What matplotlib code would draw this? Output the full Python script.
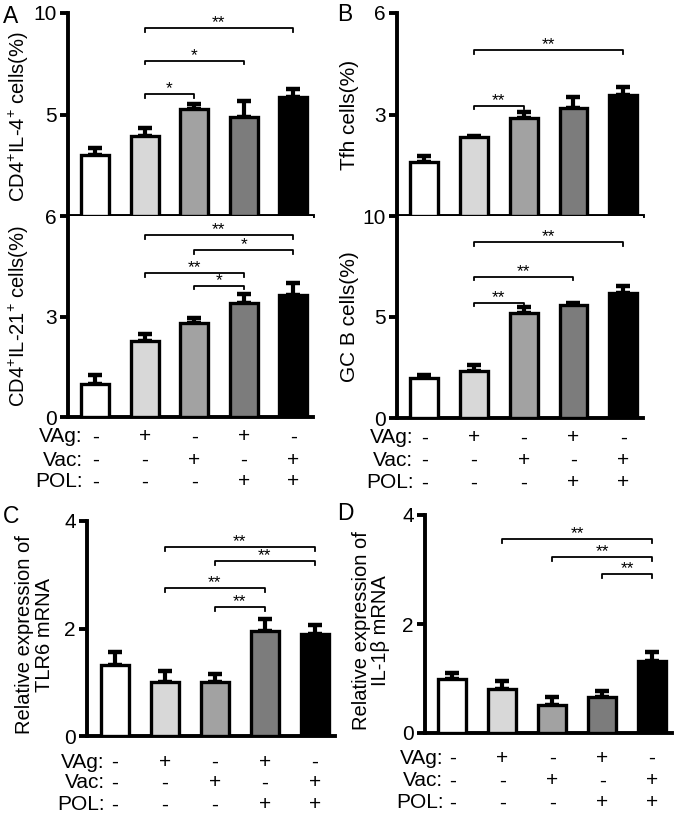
import matplotlib
matplotlib.use("Agg")
import matplotlib.pyplot as plt
from matplotlib.transforms import blended_transform_factory

plt.rcParams['font.family'] = ['Liberation Sans', 'DejaVu Sans']
plt.rcParams['mathtext.fontset'] = 'custom'
plt.rcParams['mathtext.rm'] = 'Liberation Sans'
plt.rcParams['mathtext.it'] = 'Liberation Sans:italic'

# group treatments (shown under the bottom panels)
vag = ['-', '+', '-', '+', '-']
vac = ['-', '-', '+', '-', '+']
pol = ['-', '-', '-', '+', '+']

bar_colors = ['white', '#d8d8d8', '#a2a2a2', '#7c7c7c', 'black']

# A top: CD4+IL-4+ cells
il4_mean = [3.0, 3.95, 5.25, 4.9, 5.85]
il4_err = [0.35, 0.4, 0.25, 0.75, 0.4]
il4_sig = [(1, 4, 9.26, '**'), (1, 3, 7.65, '*'), (1, 2, 6.0, '*')]

# A bottom: CD4+IL-21+ cells
il21_mean = [0.98, 2.28, 2.82, 3.41, 3.65]
il21_err = [0.27, 0.2, 0.15, 0.27, 0.35]
il21_sig = [(1, 4, 5.43, '**'), (2, 4, 4.98, '*'), (1, 3, 4.3, '**'), (2, 3, 3.92, '*')]

# B top: Tfh cells
tfh_mean = [1.59, 2.33, 2.9, 3.2, 3.59]
tfh_err = [0.18, 0.02, 0.18, 0.33, 0.22]
tfh_sig = [(1, 4, 4.9, '**'), (1, 2, 3.26, '**')]

# B bottom: GC B cells
gcb_mean = [2.0, 2.35, 5.2, 5.6, 6.2]
gcb_err = [0.12, 0.25, 0.28, 0.1, 0.35]
gcb_sig = [(1, 4, 8.7, '**'), (1, 3, 7.0, '**'), (1, 2, 5.7, '**')]

# C: TLR6 mRNA
tlr6_mean = [1.32, 1.01, 1.01, 1.96, 1.89]
tlr6_err = [0.24, 0.2, 0.15, 0.21, 0.17]
tlr6_sig = [(1, 4, 3.52, '**'), (2, 4, 3.25, '**'), (1, 3, 2.75, '**'), (2, 3, 2.4, '**')]

# D: IL-1b mRNA
il1b_mean = [1.0, 0.8, 0.51, 0.66, 1.32]
il1b_err = [0.1, 0.15, 0.15, 0.11, 0.17]
il1b_sig = [(1, 4, 3.56, '**'), (2, 4, 3.23, '**'), (3, 4, 2.92, '**')]

W, H = 675, 814
fig = plt.figure(figsize=(W / 100, H / 100), dpi=100)


def px_axes(x0, x1, ytop, ybot):
    # axes rectangle from pixel coords of the reference
    return fig.add_axes([x0 / W, 1 - ybot / H, (x1 - x0) / W, (ybot - ytop) / H])


def draw_bars(ax, mean, err, ymax, ticks, sig):
    x = list(range(len(mean)))
    ax.bar(x, mean, width=0.56, color=bar_colors, edgecolor='black',
           linewidth=2.4, zorder=3)
    ax.errorbar(x, mean, yerr=[[0] * len(err), err], fmt='none', ecolor='black',
                elinewidth=3, capsize=5, capthick=3.2, zorder=2)
    ax.set_xlim(-0.55, 4.4)
    ax.set_ylim(0, ymax)
    ax.set_yticks(ticks)
    ax.set_xticks([])
    for s in ['top', 'right']:
        ax.spines[s].set_visible(False)
    for s in ['left', 'bottom']:
        ax.spines[s].set_linewidth(2.8)
    ax.tick_params(axis='y', length=6, width=2.8, labelsize=15, pad=2)
    tick = ymax * 0.018
    for i, j, y, lab in sig:
        ax.plot([i, i, j, j], [y - tick, y, y, y - tick], color='black',
                lw=1.3, zorder=4)
        ax.annotate(lab, ((i + j) / 2, y), xytext=(0, -1.5), textcoords='offset points',
                    ha='center', va='bottom', fontsize=12.5)


def draw_groups(ax, label_x, rows_y):
    tr = blended_transform_factory(ax.transData, fig.transFigure)
    for name, vals, yp in zip(['VAg:', 'Vac:', 'POL:'], [vag, vac, pol], rows_y):
        yf = 1 - yp / H
        ax.text(label_x, yf, name, transform=tr, ha='right', va='center', fontsize=15)
        for k, v in enumerate(vals):
            ax.text(k, yf, v, transform=tr, ha='center', va='center', fontsize=15)


# panel A
axA1 = px_axes(68, 313, 13, 216)
draw_bars(axA1, il4_mean, il4_err, 10, [5, 10], il4_sig)
axA1.set_ylabel('CD4$^{+}$IL-4$^{+}$ cells(%)', fontsize=14.5)
axA1.yaxis.set_label_coords(-0.15, 0.49)

axA2 = px_axes(68, 313, 216, 417)
draw_bars(axA2, il21_mean, il21_err, 6, [0, 3, 6], il21_sig)
axA2.set_ylabel('CD4$^{+}$IL-21$^{+}$ cells(%)', fontsize=14.5)
axA2.yaxis.set_label_coords(-0.15, 0.5)
draw_groups(axA2, -0.25, [437, 460, 482])

# panel B
axB1 = px_axes(397, 643, 13, 216)
draw_bars(axB1, tfh_mean, tfh_err, 6, [3, 6], tfh_sig)
axB1.set_ylabel('Tfh cells(%)', fontsize=15)
axB1.yaxis.set_label_coords(-0.155, 0.5)

axB2 = px_axes(397, 643, 216, 418)
draw_bars(axB2, gcb_mean, gcb_err, 10, [0, 5, 10], gcb_sig)
axB2.set_ylabel('GC B cells(%)', fontsize=15)
axB2.yaxis.set_label_coords(-0.155, 0.5)
draw_groups(axB2, -0.22, [438, 460, 483])

# panel C
axC = px_axes(87, 335, 521, 736)
draw_bars(axC, tlr6_mean, tlr6_err, 4, [0, 2, 4], tlr6_sig)
axC.set_ylabel('Relative expression of\nTLR6 mRNA', fontsize=14.5, linespacing=1.05)
axC.yaxis.set_label_coords(-0.135, 0.47)
draw_groups(axC, -0.2, [762, 783, 805])

# panel D
axD = px_axes(425, 672, 515, 733)
draw_bars(axD, il1b_mean, il1b_err, 4, [0, 2, 4], il1b_sig)
axD.set_ylabel('Relative expression of\nIL-1β mRNA', fontsize=14.5, linespacing=1.05)
axD.yaxis.set_label_coords(-0.14, 0.47)
draw_groups(axD, -0.18, [758, 781, 803])

# panel letters
for txt, x, y in [('A', 3, 5), ('B', 337, 3), ('C', 3, 505), ('D', 337, 502)]:
    fig.text(x / W, 1 - y / H, txt, fontsize=16.5, ha='left', va='top')

fig.savefig('out.png', dpi=100)
